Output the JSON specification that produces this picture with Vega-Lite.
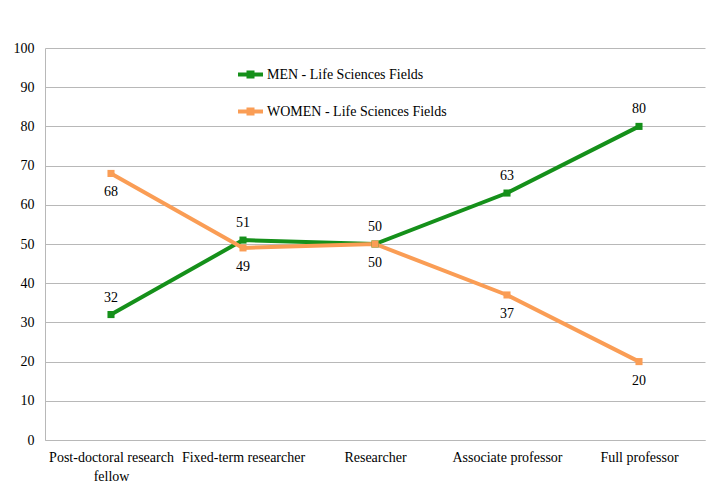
{
  "$schema": "https://vega.github.io/schema/vega-lite/v6.json",
  "width": 660,
  "height": 392,
  "autosize": {"type": "none"},
  "padding": {"left": 45, "top": 48, "right": 2, "bottom": 56},
  "background": "white",
  "data": {
    "values": [
      {"position": "Post-doctoral research fellow", "group": "MEN - Life Sciences Fields", "value": 32},
      {"position": "Fixed-term researcher", "group": "MEN - Life Sciences Fields", "value": 51},
      {"position": "Researcher", "group": "MEN - Life Sciences Fields", "value": 50},
      {"position": "Associate professor", "group": "MEN - Life Sciences Fields", "value": 63},
      {"position": "Full professor", "group": "MEN - Life Sciences Fields", "value": 80},
      {"position": "Post-doctoral research fellow", "group": "WOMEN - Life Sciences Fields", "value": 68},
      {"position": "Fixed-term researcher", "group": "WOMEN - Life Sciences Fields", "value": 49},
      {"position": "Researcher", "group": "WOMEN - Life Sciences Fields", "value": 50},
      {"position": "Associate professor", "group": "WOMEN - Life Sciences Fields", "value": 37},
      {"position": "Full professor", "group": "WOMEN - Life Sciences Fields", "value": 20}
    ]
  },
  "encoding": {
    "x": {
      "field": "position",
      "type": "nominal",
      "sort": ["Post-doctoral research fellow", "Fixed-term researcher", "Researcher", "Associate professor", "Full professor"],
      "scale": {"type": "point", "padding": 0.5},
      "axis": {
        "title": null,
        "labelAngle": 0,
        "ticks": false,
        "domain": true,
        "domainColor": "#b8b8b8",
        "labelPadding": 10,
        "labelLineHeight": 19,
        "labelBaseline": "top",
        "labelLimit": 200,
        "labelExpr": "datum.label == 'Post-doctoral research fellow' ? ['Post-doctoral research', 'fellow'] : datum.label"
      }
    },
    "y": {
      "field": "value",
      "type": "quantitative",
      "scale": {"domain": [0, 100]},
      "axis": {
        "title": null,
        "values": [0, 10, 20, 30, 40, 50, 60, 70, 80, 90, 100],
        "ticks": false,
        "domain": true,
        "domainColor": "#b8b8b8",
        "grid": true,
        "gridColor": "#b8b8b8",
        "labelPadding": 11
      }
    }
  },
  "layer": [
    {
      "mark": {
        "type": "line",
        "strokeWidth": 4,
        "point": {"shape": "square", "size": 50, "filled": true, "opacity": 1}
      },
      "encoding": {
        "color": {
          "field": "group",
          "type": "nominal",
          "scale": {
            "domain": ["MEN - Life Sciences Fields", "WOMEN - Life Sciences Fields"],
            "range": ["#15901a", "#fa9d55"]
          },
          "legend": {
            "title": null,
            "orient": "none",
            "legendX": 191,
            "legendY": 12,
            "symbolType": "M-1,0H1M-0.16,-0.16H0.16V0.16H-0.16Z",
            "symbolSize": 625,
            "symbolStrokeWidth": 4,
            "rowPadding": 12,
            "labelOffset": 2,
            "labelLimit": 400
          }
        }
      }
    },
    {
      "transform": [{"filter": "datum.group == 'MEN - Life Sciences Fields'"}],
      "mark": {"type": "text", "dy": -17, "baseline": "middle", "color": "#000"},
      "encoding": {"text": {"field": "value", "type": "quantitative", "format": ".0f"}}
    },
    {
      "transform": [{"filter": "datum.group == 'WOMEN - Life Sciences Fields'"}],
      "mark": {"type": "text", "dy": 19, "baseline": "middle", "color": "#000"},
      "encoding": {"text": {"field": "value", "type": "quantitative", "format": ".0f"}}
    }
  ],
  "config": {
    "font": "Liberation Serif",
    "view": {"stroke": null},
    "axis": {"labelFont": "Liberation Serif", "labelFontSize": 14, "labelColor": "#000"},
    "legend": {"labelFont": "Liberation Serif", "labelFontSize": 14, "labelColor": "#000"},
    "text": {"font": "Liberation Serif", "fontSize": 14}
  }
}
